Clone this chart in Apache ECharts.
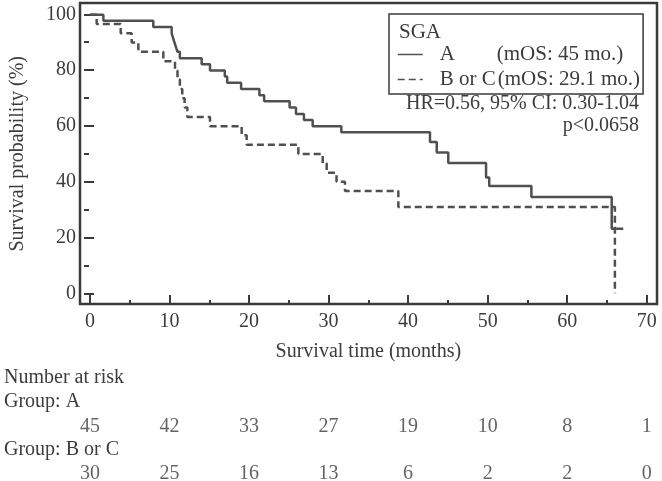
<!DOCTYPE html>
<html>
<head>
<meta charset="utf-8">
<script src="https://cdn.jsdelivr.net/npm/echarts@6/dist/echarts.min.js"></script>
<style>
html,body{margin:0;padding:0;background:#fff;}
#chart{width:662px;height:481px;}
</style>
</head>
<body>
<div id="chart"></div>
<script>
// ---- data ----
const timesA = [0, 1.68, 7.96, 10.27, 10.5, 10.75, 11.0, 11.3, 14.04, 15.09, 16.95, 17.25, 19.0, 21.3, 21.9, 25.1, 25.9, 26.9, 28.0, 31.6, 42.75, 43.6, 45.05, 49.8, 50.2, 55.5, 65.6, 67.05];
const survA  = [100, 97.8, 95.6, 93.3, 91.1, 88.9, 86.7, 84.4, 82.2, 80.0, 77.8, 75.6, 73.3, 71.1, 68.9, 66.7, 64.4, 62.2, 60.0, 57.8, 54.3, 50.5, 46.8, 41.6, 38.5, 34.6, 23.2, 23.2];
const timesB = [0, 0.84, 3.86, 5.24, 6.08, 9.22, 10.69, 11.0, 11.3, 11.6, 11.9, 12.24, 15.09, 19.07, 19.7, 26.2, 29.26, 29.76, 31.0, 32.06, 38.77, 66.0];
const survB  = [100, 96.7, 93.3, 90.0, 86.7, 83.3, 80.0, 76.7, 73.3, 70.0, 66.7, 63.3, 60.0, 56.7, 53.3, 50.0, 46.7, 43.3, 40.0, 36.7, 31.0, 0];
const riskTimes = [0, 10, 20, 30, 40, 50, 60, 70];
const riskA = [45, 42, 33, 27, 19, 10, 8, 1];
const riskB = [30, 25, 16, 13, 6, 2, 2, 0];
const groupNames = ['A', 'B or C'];
const medianLabels = ['(mOS: 45 mo.)', '(mOS: 29.1 mo.)'];
const statLines = ['HR=0.56, 95% CI: 0.30-1.04', 'p<0.0658'];
const riskRowLabels = ['Number at risk', 'Group: A', 'Group: B or C'];

// ---- styles ----
const FONT = '"Liberation Serif", "Times New Roman", serif';
const TXT = '#3c3c3c';
const LINE = '#505050';
const FS = 20;
const LFS = 21;

const chart = echarts.init(document.getElementById('chart'), null, {renderer: 'canvas'});

const riskData = [];
riskTimes.forEach((t, i) => {
  riskData.push([t, 1, riskA[i]]);
  riskData.push([t, 0, riskB[i]]);
});

const option = {
  animation: false,
  backgroundColor: '#ffffff',
  grid: [
    {left: 90, right: 15.3, top: 3, bottom: 177},          // data grid (x ticks)
    {left: 80, right: 5, top: 14.3, bottom: 187.7},        // y ticks grid
    {left: 80, right: 5, top: 3, bottom: 177, show: true, borderColor: '#3a3a3a', borderWidth: 2.5, backgroundColor: 'transparent'}, // frame
    {left: 90, right: 15.3, top: 427, bottom: 7.5}         // risk table
  ],
  xAxis: [
    {
      gridIndex: 0, type: 'value', min: 0, max: 70, interval: 10,
      axisLine: {show: false, onZero: false},
      axisTick: {show: true, inside: true, length: 9, lineStyle: {color: '#3a3a3a', width: 2}},
      minorTick: {show: true, splitNumber: 2, length: 4, lineStyle: {color: '#3a3a3a', width: 2}},
      splitLine: {show: false},
      axisLabel: {margin: 8, fontFamily: FONT, fontSize: FS, color: TXT},
      name: 'Survival time (months)', nameLocation: 'middle', nameGap: 38,
      nameTextStyle: {fontFamily: FONT, fontSize: FS, color: TXT}
    },
    {gridIndex: 1, type: 'value', min: 0, max: 1, show: false},
    {gridIndex: 2, type: 'value', min: 0, max: 1, show: false},
    {gridIndex: 3, type: 'value', min: 0, max: 70, show: false}
  ],
  yAxis: [
    {gridIndex: 0, type: 'value', min: -3.84, max: 104.2, show: false},
    {
      gridIndex: 1, type: 'value', min: 0, max: 100, interval: 20,
      axisLine: {show: false, onZero: false},
      axisTick: {show: true, inside: true, length: 10, lineStyle: {color: '#3a3a3a', width: 2}},
      minorTick: {show: true, splitNumber: 2, length: 5, lineStyle: {color: '#3a3a3a', width: 2}},
      splitLine: {show: false},
      axisLabel: {margin: 8, fontFamily: FONT, fontSize: FS, color: TXT},
      name: 'Survival probability (%)', nameLocation: 'middle', nameGap: 56,
      nameTextStyle: {fontFamily: FONT, fontSize: FS, color: TXT}
    },
    {gridIndex: 2, type: 'value', min: 0, max: 1, show: false},
    {gridIndex: 3, type: 'value', min: 0, max: 1, show: false}
  ],
  legend: {
    left: 389, top: 14, orient: 'vertical',
    padding: [30, 3, 4, 8], itemGap: 4, itemWidth: 25, itemHeight: 14,
    borderColor: '#3a3a3a', borderWidth: 1.5,
    lineStyle: {width: 1.5},
    itemStyle: {opacity: 0},
    selectedMode: false,
    data: groupNames,
    textStyle: {
      fontFamily: FONT, fontSize: LFS, color: TXT, lineHeight: 21,
      rich: {
        s: {width: 12},
        na: {width: 57, fontFamily: FONT, fontSize: LFS, color: TXT},
        nb: {width: 58, fontFamily: FONT, fontSize: LFS, color: TXT},
        m: {fontFamily: FONT, fontSize: LFS, color: TXT}
      }
    },
    formatter: function (name) {
      const i = groupNames.indexOf(name);
      return '{s|}{' + (i === 0 ? 'na' : 'nb') + '|' + name + '}{m|' + medianLabels[i] + '}';
    }
  },
  graphic: [
    {type: 'text', left: 399, top: 22, style: {text: 'SGA', font: LFS + 'px ' + FONT, fill: TXT}},
    {type: 'text', right: 23, top: 94, style: {text: statLines[0], font: FS + 'px ' + FONT, fill: TXT}},
    {type: 'text', right: 23, top: 116, style: {text: statLines[1], font: FS + 'px ' + FONT, fill: TXT}},
    {type: 'text', left: 4, top: 368, style: {text: riskRowLabels[0], font: FS + 'px ' + FONT, fill: TXT}},
    {type: 'text', left: 4, top: 392, style: {text: riskRowLabels[1], font: FS + 'px ' + FONT, fill: TXT}},
    {type: 'text', left: 4, top: 440, style: {text: riskRowLabels[2], font: FS + 'px ' + FONT, fill: TXT}}
  ],
  series: [
    {
      name: groupNames[0], type: 'line', step: 'end', xAxisIndex: 0, yAxisIndex: 0,
      symbol: 'none', clip: false,
      lineStyle: {color: LINE, width: 2.5, type: 'solid'},
      itemStyle: {color: LINE},
      data: timesA.map((t, i) => [t, survA[i]])
    },
    {
      name: groupNames[1], type: 'line', step: 'end', xAxisIndex: 0, yAxisIndex: 0,
      symbol: 'none', clip: false,
      lineStyle: {color: LINE, width: 2.5, type: [7, 4]},
      itemStyle: {color: LINE},
      data: timesB.map((t, i) => [t, survB[i]])
    },
    {
      type: 'scatter', xAxisIndex: 3, yAxisIndex: 3, symbolSize: 1, clip: false,
      itemStyle: {color: 'rgba(0,0,0,0)'},
      silent: true,
      label: {
        show: true, position: 'inside', fontFamily: FONT, fontSize: FS, color: TXT,
        formatter: p => String(p.value[2])
      },
      data: riskData
    }
  ]
};
chart.setOption(option);
</script>
</body>
</html>
